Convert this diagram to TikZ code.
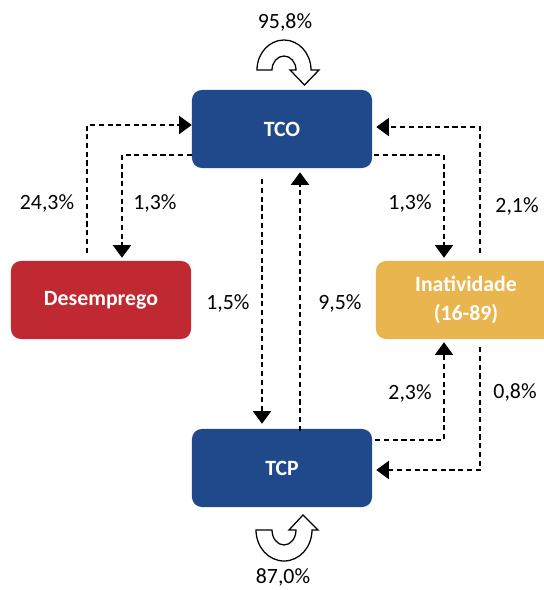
\documentclass[tikz,border=0pt]{standalone}
\usepackage{fontspec}
\setmainfont{Carlito}
\usetikzlibrary{arrows.meta,calc}
\definecolor{tcoblue}{RGB}{31,73,139}
\definecolor{desred}{RGB}{192,41,50}
\definecolor{inagold}{RGB}{232,181,78}
\begin{document}
\begin{tikzpicture}[x=0.025cm,y=0.025cm,
    box/.style={rounded corners=7pt, minimum width=4.5cm, minimum height=1.95cm,
        inner sep=0pt, text=white, align=center,
        font=\fontsize{15.5}{20}\selectfont\bfseries},
    flow/.style={dash pattern=on 3.6pt off 2.6pt, line width=0.9pt,
        -{Triangle[length=9pt,width=13pt]}},
    pct/.style={font=\fontsize{15.5}{18}\selectfont},
    loop/.style={draw=black, fill=white, line width=0.9pt, line join=miter}]
    \clip (0,0) rectangle (544,-590);
    \path[use as bounding box] (0,0) rectangle (544,-590);

    % Draw the four states
    \node[box, fill=tcoblue] (tco) at (282,-129) {TCO};
    \node[box, fill=tcoblue] (tcp) at (282,-468) {TCP};
    \node[box, fill=desred] (desemp) at (101,-300) {Desemprego};
    \node[box, fill=inagold] (inativ) at (466,-300) {Inatividade\\(16-89)};

    % Flows between the states
    \draw[flow] ($(desemp.north)+(-14,8)$) |- ($(tco.west)+(0,4)$);
    \draw[flow] ($(tco.west)+(0,-26)$) -| ($(desemp.north)+(21,3)$);
    \draw[flow] ($(tco.south)+(-20,-11)$) -- ($(tcp.north)+(-20,5)$);
    \draw[flow] ($(tcp.north)+(18,-2)$) -- ($(tco.south)+(18,-4)$);
    \draw[flow] ($(inativ.north)+(14,8)$) |- ($(tco.east)+(4,2)$);
    \draw[flow] ($(tco.east)+(2,-26)$) -| ($(inativ.north)+(-22,3)$);
    \draw[flow] ($(tcp.east)+(3,28)$) -| ($(inativ.south)+(-22,-3)$);
    \draw[flow] ($(inativ.south)+(14,-8)$) |- ($(tcp.east)+(4,-2)$);

    % Labels for the flows
    \node[pct] (l243) at (47,-203) {24,3\%};
    \node[pct] (l13a) at (155,-203) {1,3\%};
    \node[pct] (l13b) at (410,-203) {1,3\%};
    \node[pct] (l21) at (517,-206) {2,1\%};
    \node[pct] (l15) at (228,-303) {1,5\%};
    \node[pct] (l95) at (340,-303) {9,5\%};
    \node[pct] (l23) at (410,-393) {2,3\%};
    \node[pct] (l08) at (515,-392) {0,8\%};

    % Staying in the same state
    \draw[loop] (257,-70) arc[start angle=180, end angle=0, x radius=27, y radius=30]
        -- (319,-70) -- (304.5,-85) -- (290,-70) -- (296,-70)
        arc[start angle=0, end angle=180, x radius=12, y radius=14] -- cycle;
    \node[pct] (l958) at (285,-22) {95,8\%};
    \draw[loop] (256,-530) arc[start angle=180, end angle=360, x radius=28, y radius=31]
        -- (318,-530) -- (303,-515) -- (289,-530) -- (296,-530)
        arc[start angle=360, end angle=180, x radius=12, y radius=15] -- cycle;
    \node[pct] (l870) at (283,-577) {87,0\%};
\end{tikzpicture}
\end{document}
